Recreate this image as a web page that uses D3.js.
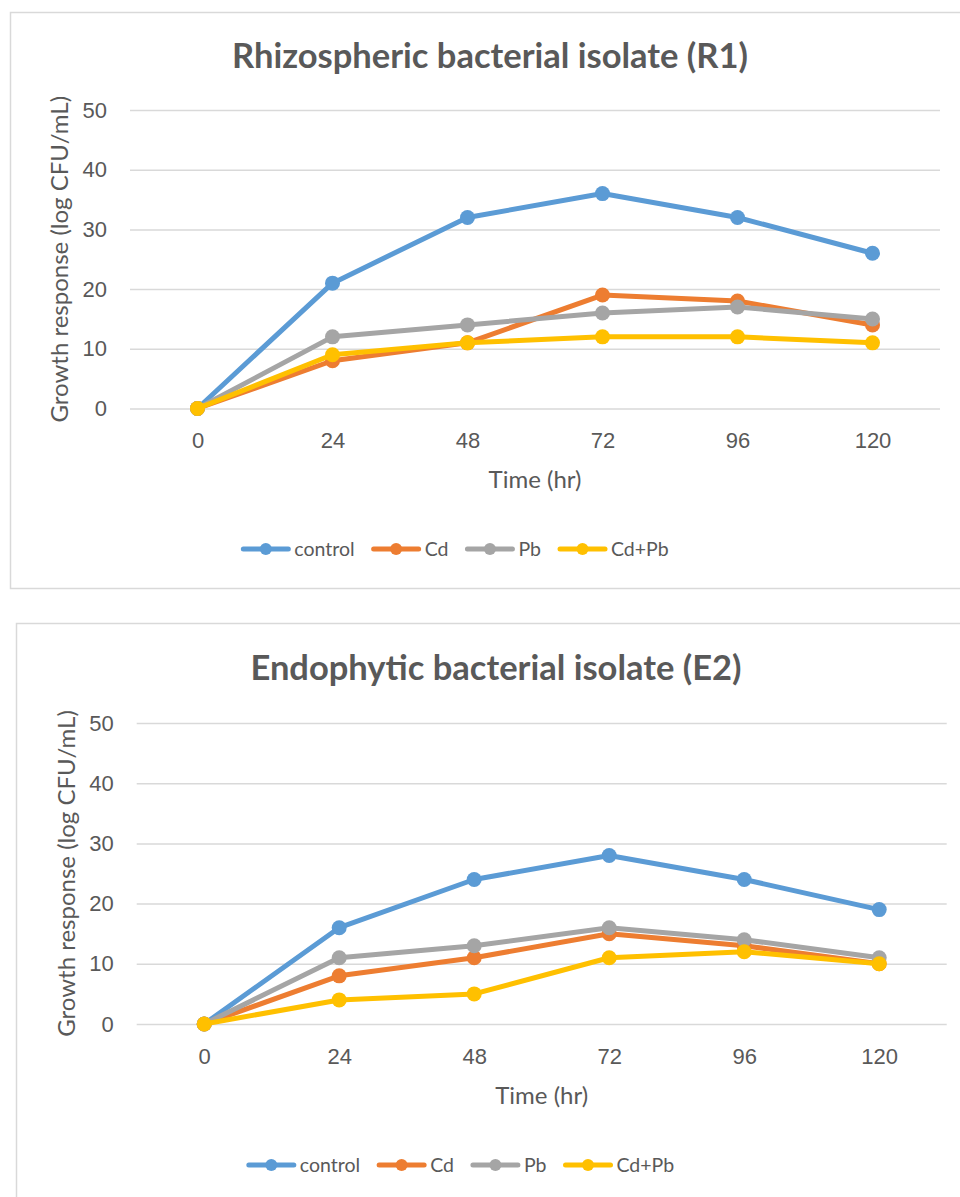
<!DOCTYPE html>
<html>
<head>
<meta charset="utf-8">
<script src="https://cdn.jsdelivr.net/npm/d3@7"></script>
<style>
  body { margin: 0; background: #fff; }
  svg { display: block; font-family: Lato, "Open Sans", sans-serif; }
</style>
</head>
<body>
<div id="chart"></div>
<script>
// categories and tick values
const timePoints = ['0', '24', '48', '72', '96', '120']
const yTicks = [0, 10, 20, 30, 40, 50]
const seriesNames = ['control', 'Cd', 'Pb', 'Cd+Pb']
const seriesColors = ['#5B9BD5', '#ED7D31', '#A5A5A5', '#FFC000']

// Rhizospheric isolate (R1)
const r1Control = [0, 21, 32, 36, 32, 26]
const r1Cd = [0, 8, 11, 19, 18, 14]
const r1Pb = [0, 12, 14, 16, 17, 15]
const r1CdPb = [0, 9, 11, 12, 12, 11]

// Endophytic isolate (E2)
const e2Control = [0, 16, 24, 28, 24, 19]
const e2Cd = [0, 8, 11, 15, 13, 10]
const e2Pb = [0, 11, 13, 16, 14, 11]
const e2CdPb = [0, 4, 5, 11, 12, 10]

const textColor = '#595959'
const gridColor = '#D9D9D9'

const svg = d3
  .select('#chart')
  .append('svg')
  .attr('width', 960)
  .attr('height', 1197)

svg.append('rect').attr('width', 960).attr('height', 1197).attr('fill', '#fff')

const panels = [
  {
    title: 'Rhizospheric bacterial isolate (R1)',
    series: [r1Control, r1Cd, r1Pb, r1CdPb],
    box: { x: 10, y: 12, w: 980, h: 576 },
    plot: { x: 130, y: 110, w: 810, h: 298.5 },
    titleX: 490,
    titleY: 68,
    xTitleY: 488,
    legendY: 549,
    legendCx: 455,
  },
  {
    title: 'Endophytic bacterial isolate (E2)',
    series: [e2Control, e2Cd, e2Pb, e2CdPb],
    box: { x: 16, y: 623, w: 980, h: 600 },
    plot: { x: 136.7, y: 723, w: 810, h: 301 },
    titleX: 496,
    titleY: 680,
    xTitleY: 1104,
    legendY: 1165,
    legendCx: 460.5,
  },
]

panels.forEach(drawPanel)

function drawPanel(p) {
  const g = svg.append('g')

  g.append('rect')
    .attr('x', p.box.x + 0.5)
    .attr('y', p.box.y + 0.5)
    .attr('width', p.box.w)
    .attr('height', p.box.h)
    .attr('fill', '#fff')
    .attr('stroke', gridColor)
    .attr('stroke-width', 1.5)

  const x = d3
    .scalePoint()
    .domain(timePoints)
    .range([p.plot.x, p.plot.x + p.plot.w])
    .padding(0.5)

  const y = d3
    .scaleLinear()
    .domain([0, 50])
    .range([p.plot.y + p.plot.h, p.plot.y])

  // y axis with gridlines
  const yAxis = g
    .append('g')
    .attr('transform', `translate(${p.plot.x},0)`)
    .call(d3.axisLeft(y).tickValues(yTicks).tickSize(-p.plot.w).tickPadding(23))
  yAxis.select('.domain').remove()
  yAxis.selectAll('line').attr('stroke', gridColor).attr('stroke-width', 1.5)
  yAxis
    .selectAll('text')
    .attr('fill', textColor)
    .style('font-size', '22px')

  // x axis labels
  const xAxis = g
    .append('g')
    .attr('transform', `translate(0,${p.plot.y + p.plot.h})`)
    .call(d3.axisBottom(x).tickSize(0).tickPadding(24))
  xAxis.select('.domain').remove()
  xAxis
    .selectAll('text')
    .attr('fill', textColor)
    .style('font-size', '22px')

  // titles
  g.append('text')
    .attr('x', p.titleX)
    .attr('y', p.titleY)
    .attr('text-anchor', 'middle')
    .attr('fill', textColor)
    .style('font-size', '34.5px')
    .style('font-weight', 'bold')
    .text(p.title)

  g.append('text')
    .attr('x', p.plot.x + p.plot.w / 2)
    .attr('y', p.xTitleY)
    .attr('text-anchor', 'middle')
    .attr('fill', textColor)
    .style('font-size', '24px')
    .text('Time (hr)')

  g.append('text')
    .attr(
      'transform',
      `translate(${p.plot.x - 62},${p.plot.y + p.plot.h / 2}) rotate(-90)`
    )
    .attr('text-anchor', 'middle')
    .attr('fill', textColor)
    .style('font-size', '24px')
    .text('Growth response (log CFU/mL)')

  // series
  const line = d3
    .line()
    .x((d, i) => x(timePoints[i]))
    .y((d) => y(d))

  p.series.forEach((values, si) => {
    const sg = g.append('g')
    sg.append('path')
      .datum(values)
      .attr('d', line)
      .attr('fill', 'none')
      .attr('stroke', seriesColors[si])
      .attr('stroke-width', 5)
      .attr('stroke-linejoin', 'round')
      .attr('stroke-linecap', 'round')
    sg.selectAll('circle')
      .data(values)
      .enter()
      .append('circle')
      .attr('cx', (d, i) => x(timePoints[i]))
      .attr('cy', (d) => y(d))
      .attr('r', 7.5)
      .attr('fill', seriesColors[si])
  })

  // legend
  const leg = g.append('g')
  const items = leg
    .selectAll('g')
    .data(seriesNames)
    .enter()
    .append('g')
  items
    .append('text')
    .attr('x', 53)
    .attr('y', p.legendY)
    .attr('dy', '0.35em')
    .attr('fill', textColor)
    .style('font-size', '19.5px')
    .text((d) => d)
  let cursor = 0
  const offsets = []
  items.each(function () {
    const w = d3.select(this).select('text').node().getComputedTextLength()
    offsets.push(cursor)
    cursor += 53 + w + 17
  })
  const total = cursor - 17
  const startX = p.legendCx - total / 2
  items.attr('transform', (d, i) => `translate(${startX + offsets[i]},0)`)
  items
    .append('line')
    .attr('x1', 2)
    .attr('x2', 47)
    .attr('y1', p.legendY)
    .attr('y2', p.legendY)
    .attr('stroke', (d, i) => seriesColors[i])
    .attr('stroke-width', 5)
    .attr('stroke-linecap', 'round')
  items
    .append('circle')
    .attr('cx', 24.5)
    .attr('cy', p.legendY)
    .attr('r', 6)
    .attr('fill', (d, i) => seriesColors[i])
}
</script>
</body>
</html>
